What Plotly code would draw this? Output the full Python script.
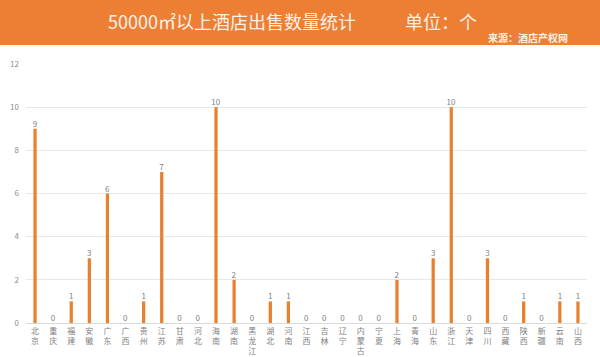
import plotly.graph_objects as go

provinces = ["北京", "重庆", "福建", "安徽", "广东", "广西", "贵州", "江苏", "甘肃", "河北",
             "海南", "湖南", "黑龙江", "湖北", "河南", "江西", "吉林", "辽宁", "内蒙古", "宁夏",
             "上海", "青海", "山东", "浙江", "天津", "四川", "西藏", "陕西", "新疆", "云南", "山西"]
counts = [9, 0, 1, 3, 6, 0, 1, 7, 0, 0,
          10, 2, 0, 1, 1, 0, 0, 0, 0, 0,
          2, 0, 3, 10, 0, 3, 0, 1, 0, 1, 1]
y_ticks = [0, 2, 4, 6, 8, 10, 12]

W, H = 600, 357
L, R, T, B = 26, 13, 64, 34
PW, PH = W - L - R, H - T - B

def px(x):
    return (x - L) / PW

def py(y):
    return 1 + (T - y) / PH

vertical = ["<br>".join(list(p)) for p in provinces]

fig = go.Figure(go.Bar(
    x=vertical, y=counts,
    marker=dict(color="#E8812F", line=dict(width=0)),
    text=[str(c) for c in counts], textposition="outside",
    textfont=dict(size=8, color="#7F7F7F", family="Noto Sans CJK SC"),
    constraintext="none",
    cliponaxis=False,
))

fig.update_layout(
    width=W, height=H,
    margin=dict(l=L, r=R, t=T, b=B),
    paper_bgcolor="white", plot_bgcolor="white",
    bargap=0.82,
    showlegend=False,
    font=dict(family="Noto Sans CJK SC", color="#7F7F7F"),
    xaxis=dict(tickfont=dict(size=8, color="#808080"), showgrid=False,
               showline=True, linecolor="#D9D9D9", linewidth=1, ticks="",
               automargin=False, tickangle=0, ticklabelstandoff=0),
    yaxis=dict(range=[0, 12], tickvals=y_ticks, tickfont=dict(size=8, color="#8C8C8C"),
               showgrid=True, gridcolor="#E8E8E8", gridwidth=1, zeroline=False,
               showline=False, automargin=False, ticklabelstandoff=6),
    shapes=[dict(type="rect", xref="paper", yref="paper",
                 x0=px(-5), x1=px(W + 5), y0=py(45), y1=py(-5),
                 fillcolor="#EC7F34", line=dict(width=0), layer="below")],
    annotations=[
        dict(text="50000㎡以上酒店出售数量统计", xref="paper", yref="paper",
             x=px(106), y=py(21), xanchor="left", yanchor="middle", showarrow=False,
             font=dict(size=18, color="#FFF1E6", family="Noto Sans CJK SC")),
        dict(text="单位：个", xref="paper", yref="paper",
             x=px(403), y=py(21), xanchor="left", yanchor="middle", showarrow=False,
             font=dict(size=18, color="#FFF1E6", family="Noto Sans CJK SC")),
        dict(text="<b>来源：酒店产权网</b>", xref="paper", yref="paper",
             x=px(570), y=py(38), xanchor="right", yanchor="middle", showarrow=False,
             font=dict(size=10, color="#FFF1E6", family="Noto Sans CJK SC")),
    ],
)

fig.write_html("out.html")
